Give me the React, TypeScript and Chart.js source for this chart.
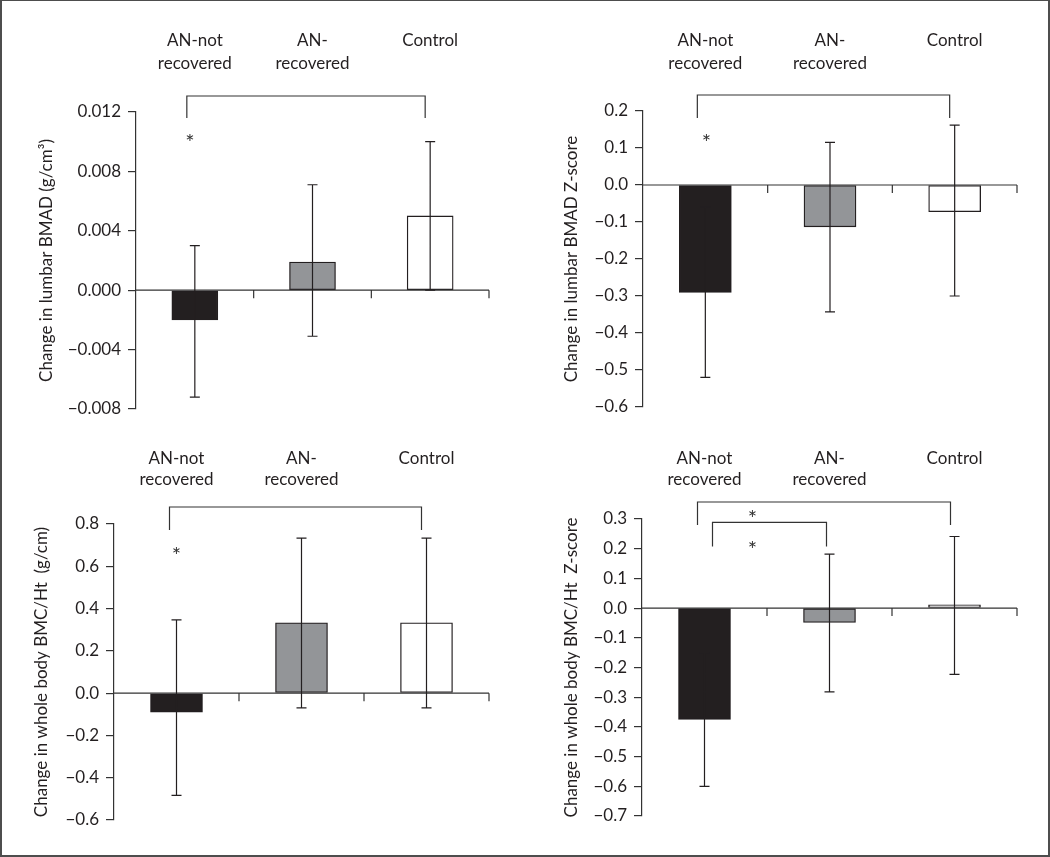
import React, { useEffect, useRef } from "react";
import { Chart, registerables } from "chart.js";

Chart.register(...registerables);

// ---------- data ----------
const categories = ["AN-not recovered", "AN-recovered", "Control"];
const categoryLabelLines = [["AN-not", "recovered"], ["AN-", "recovered"], ["Control"]];
const groupColors = ["#231f20", "#939598", "#ffffff"];

// Panel A: change in lumbar BMAD (g/cm3)
const lumbarBmadMean = [-0.002, 0.0019, 0.005];
const lumbarBmadLow = [-0.0072, -0.0031, 0.0];
const lumbarBmadHigh = [0.003, 0.0071, 0.01];

// Panel B: change in lumbar BMAD Z-score
const lumbarZMean = [-0.29, -0.113, -0.072];
const lumbarZLow = [-0.52, -0.343, -0.3];
const lumbarZHigh = [-0.06, 0.115, 0.162];

// Panel C: change in whole body BMC/Ht (g/cm)
const wholeBodyMean = [-0.09, 0.333, 0.333];
const wholeBodyLow = [-0.484, -0.07, -0.07];
const wholeBodyHigh = [0.347, 0.733, 0.733];

// Panel D: change in whole body BMC/Ht Z-score
const wholeBodyZMean = [-0.375, -0.048, 0.011];
const wholeBodyZLow = [-0.6, -0.282, -0.223];
const wholeBodyZHigh = [-0.15, 0.182, 0.241];

const TEXT = "#231f20";
const LINE = "#333333";
const ERR = "#231f20";
const FONT = "Lato";
const STAR_SIZE = 22;

type Bracket = { from: number; to: number; dxFrom: number; dxTo: number; top: number; leg: number };
type Star = { cat: number; dx: number; dy: number };
type PanelCfg = {
  title: string;
  mean: number[];
  low: number[];
  high: number[];
  yMin: number;
  yMax: number;
  yStep: number;
  decimals: number;
  box: { x: number; y: number; w: number; h: number };
  plot: { left: number; right: number; top: number; bottom: number };
  barThickness: number;
  titleX: number;
  labelBase: number[];
  brackets: Bracket[];
  stars: Star[];
};

const panels: PanelCfg[] = [
  {
    title: "Change in lumbar BMAD (g/cm\u00B3)",
    mean: lumbarBmadMean, low: lumbarBmadLow, high: lumbarBmadHigh,
    yMin: -0.008, yMax: 0.012, yStep: 0.004, decimals: 3,
    box: { x: 0, y: 0, w: 525, h: 430 },
    plot: { left: 136, right: 489, top: 112, bottom: 409 },
    barThickness: 46, titleX: 47, labelBase: [46, 68.5],
    brackets: [{ from: 0, to: 2, dxFrom: -8, dxTo: -5, top: -16, leg: 6 }],
    stars: [{ cat: 0, dx: -5, dy: 25 }],
  },
  {
    title: "Change in lumbar BMAD Z-score",
    mean: lumbarZMean, low: lumbarZLow, high: lumbarZHigh,
    yMin: -0.6, yMax: 0.2, yStep: 0.1, decimals: 1,
    box: { x: 525, y: 0, w: 525, h: 430 },
    plot: { left: 643, right: 1017, top: 111, bottom: 407 },
    barThickness: 52, titleX: 46.7, labelBase: [46, 68.5],
    brackets: [{ from: 0, to: 2, dxFrom: -8, dxTo: -5, top: -16, leg: 7 }],
    stars: [{ cat: 0, dx: 1, dy: 26 }],
  },
  {
    title: "Change in whole body BMC/Ht  (g/cm)",
    mean: wholeBodyMean, low: wholeBodyLow, high: wholeBodyHigh,
    yMin: -0.6, yMax: 0.8, yStep: 0.2, decimals: 1,
    box: { x: 0, y: 430, w: 525, h: 427 },
    plot: { left: 114, right: 489, top: 524, bottom: 820 },
    barThickness: 52, titleX: 41.7, labelBase: [33.5, 55],
    brackets: [{ from: 0, to: 2, dxFrom: -7, dxTo: -5, top: -17, leg: 6 }],
    stars: [{ cat: 0, dx: 0, dy: 25.5 }],
  },
  {
    title: "Change in whole body BMC/Ht  Z-score",
    mean: wholeBodyZMean, low: wholeBodyZLow, high: wholeBodyZHigh,
    yMin: -0.7, yMax: 0.3, yStep: 0.1, decimals: 1,
    box: { x: 525, y: 430, w: 525, h: 427 },
    plot: { left: 642, right: 1017, top: 519, bottom: 816 },
    barThickness: 52, titleX: 46.7, labelBase: [33.5, 55],
    brackets: [
      { from: 0, to: 2, dxFrom: -7, dxTo: -4, top: -17, leg: 6 },
      { from: 0, to: 1, dxFrom: 8, dxTo: -3, top: 3.4, leg: 27.4 },
    ],
    stars: [
      { cat: 0, dx: 48, dy: -6 },
      { cat: 0, dx: 48, dy: 25 },
    ],
  },
];

function fmt(v: number, d: number): string {
  if (Math.abs(v) < 1e-9) return (0).toFixed(d);
  return (v < 0 ? "\u2212" : "") + Math.abs(v).toFixed(d);
}

function makeOverlay(cfg: PanelCfg) {
  return {
    id: "overlay",
    afterDatasetsDraw(chart: any) {
      const { ctx, chartArea: ca, scales } = chart;
      const x = scales.x;
      const y = scales.y;
      const n = cfg.mean.length;
      const y0 = y.getPixelForValue(0);
      ctx.save();
      ctx.strokeStyle = LINE;
      ctx.lineWidth = 1.2;
      // x axis at zero with boundary ticks
      ctx.beginPath();
      ctx.moveTo(ca.left, y0);
      ctx.lineTo(ca.right, y0);
      for (let i = 0; i < n; i++) {
        const bx = i === n - 1 ? ca.right : (x.getPixelForValue(i) + x.getPixelForValue(i + 1)) / 2;
        ctx.moveTo(bx, y0);
        ctx.lineTo(bx, y0 + 8);
      }
      ctx.stroke();
      // error bars
      ctx.strokeStyle = ERR;
      ctx.beginPath();
      for (let i = 0; i < n; i++) {
        const cx = x.getPixelForValue(i);
        const yl = y.getPixelForValue(cfg.low[i]);
        const yh = y.getPixelForValue(cfg.high[i]);
        ctx.moveTo(cx, yl);
        ctx.lineTo(cx, yh);
        ctx.moveTo(cx - 5, yl);
        ctx.lineTo(cx + 5, yl);
        ctx.moveTo(cx - 5, yh);
        ctx.lineTo(cx + 5, yh);
      }
      ctx.stroke();
      // brackets
      ctx.strokeStyle = LINE;
      ctx.beginPath();
      for (const b of cfg.brackets) {
        const xa = x.getPixelForValue(b.from) + b.dxFrom;
        const xb = x.getPixelForValue(b.to) + b.dxTo;
        const yt = ca.top + b.top;
        const yl = ca.top + b.leg;
        ctx.moveTo(xa, yl);
        ctx.lineTo(xa, yt);
        ctx.lineTo(xb, yt);
        ctx.lineTo(xb, yl);
      }
      ctx.stroke();
      // stars
      ctx.fillStyle = "#333";
      ctx.font = `${STAR_SIZE}px ${FONT}`;
      ctx.textAlign = "center";
      ctx.textBaseline = "alphabetic";
      for (const s of cfg.stars) {
        ctx.fillText("*", x.getPixelForValue(s.cat) + s.dx, ca.top + s.dy + STAR_SIZE * 0.6);
      }
      // category labels on top
      ctx.fillStyle = TEXT;
      ctx.font = `17px ${FONT}`;
      for (let i = 0; i < n; i++) {
        const cx = x.getPixelForValue(i);
        categoryLabelLines[i].forEach((t, j) => ctx.fillText(t, cx, cfg.labelBase[j]));
      }
      ctx.restore();
    },
  };
}

function Panel({ cfg }: { cfg: PanelCfg }) {
  const ref = useRef<HTMLCanvasElement | null>(null);
  useEffect(() => {
    if (!ref.current) return;
    const { box, plot } = cfg;
    const chart = new Chart(ref.current, {
      type: "bar",
      data: {
        labels: categories,
        datasets: [
          {
            data: cfg.mean,
            backgroundColor: groupColors,
            borderColor: "#231f20",
            borderWidth: 1.3,
            borderSkipped: false,
            barThickness: cfg.barThickness,
          },
        ],
      },
      options: {
        responsive: false,
        animation: false,
        devicePixelRatio: 1,
        events: [],
        layout: {
          padding: {
            left: 0,
            top: plot.top - box.y,
            bottom: box.y + box.h - plot.bottom,
            right: box.x + box.w - plot.right,
          },
        },
        plugins: { legend: { display: false }, tooltip: { enabled: false } },
        scales: {
          x: { display: false, offset: true },
          y: {
            min: cfg.yMin,
            max: cfg.yMax,
            afterFit: (s: any) => {
              s.width = plot.left - box.x;
            },
            ticks: {
              stepSize: cfg.yStep,
              autoSkip: false,
              padding: 7,
              color: TEXT,
              font: { family: FONT, size: 17 },
              callback: (v: any) => fmt(Number(v), cfg.decimals),
            },
            grid: { drawOnChartArea: false, drawTicks: true, tickLength: 8, color: LINE, lineWidth: 1.2 },
            border: { display: true, color: LINE, width: 1.2 },
            title: {
              display: true,
              text: cfg.title,
              color: TEXT,
              font: { family: FONT, size: 17 },
              padding: { top: cfg.titleX - 10.2, bottom: 0 },
            },
          },
        },
      },
      plugins: [makeOverlay(cfg)],
    } as any);
    return () => chart.destroy();
  }, [cfg]);
  return (
    <canvas
      ref={ref}
      width={cfg.box.w}
      height={cfg.box.h}
      style={{ position: "absolute", left: cfg.box.x, top: cfg.box.y, width: cfg.box.w, height: cfg.box.h }}
    />
  );
}

export default function App() {
  return (
    <div style={{ position: "absolute", left: 0, top: 0, width: 1050, height: 857, background: "#fff" }}>
      {panels.map((p, i) => (
        <Panel key={i} cfg={p} />
      ))}
      <div
        style={{
          position: "absolute",
          left: 0,
          top: 0,
          width: 1050,
          height: 857,
          boxSizing: "border-box",
          borderStyle: "solid",
          borderColor: "#4d4d4d",
          borderWidth: "1px 2px 2px 2px",
          pointerEvents: "none",
        }}
      />
    </div>
  );
}
